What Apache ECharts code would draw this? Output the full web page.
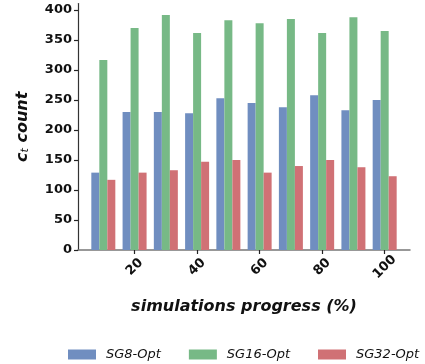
<!DOCTYPE html>
<html>
<head>
<meta charset="utf-8">
<script src="https://cdn.jsdelivr.net/npm/echarts@6/dist/echarts.min.js"></script>
<style>html,body{margin:0;padding:0;background:#fff}#c{width:425px;height:364px}</style>
</head>
<body>
<div id="c"></div>
<script>
const progress = [10, 20, 30, 40, 50, 60, 70, 80, 90, 100];
const sg8 = [129, 230, 230, 228, 253, 245, 238, 258, 233, 250];
const sg16 = [317, 370, 392, 362, 383, 378, 385, 362, 388, 365];
const sg32 = [117, 129, 133, 147, 150, 129, 140, 150, 138, 123];
const xTicks = [20, 40, 60, 80, 100];
const yTicks = [0, 50, 100, 150, 200, 250, 300, 350, 400];
const seriesNames = ['SG8-Opt', 'SG16-Opt', 'SG32-Opt'];
const colors = ['#708EC0', '#77B986', '#D07175'];

const chart = echarts.init(document.getElementById('c'), null, {renderer: 'canvas'});
const font = 'DejaVu Sans';
function mk(name, vals, color) {
  return {
    name: name, type: 'bar', barWidth: 8, barGap: '0%',
    itemStyle: {color: color},
    data: progress.map((p, i) => [p, vals[i]])
  };
}
chart.setOption({
  animation: false,
  grid: {left: 78, right: 15, top: 3.5, bottom: 114, containLabel: false},
  xAxis: {
    type: 'value', min: 1.9, max: 108.1,
    name: 'simulations progress (%)', nameLocation: 'middle', nameGap: 49,
    nameTextStyle: {fontFamily: font, fontWeight: 'bold', fontStyle: 'italic', fontSize: 16, color: '#111'},
    axisLine: {show: true, lineStyle: {color: '#777', width: 1.5}},
    axisTick: {show: true, length: 4, customValues: xTicks, lineStyle: {color: '#222', width: 1.2}},
    axisLabel: {customValues: xTicks, rotate: 45, align: 'center', verticalAlign: 'middle', margin: 17,
      fontFamily: font, fontWeight: 'bold', fontSize: 13, color: '#111'},
    splitLine: {show: false}
  },
  yAxis: {
    type: 'value', min: 0, max: 411,
    name: '{a|c}{s|t}{a| count}', nameLocation: 'middle', nameGap: 47,
    nameTextStyle: {
      rich: {
        a: {fontFamily: font, fontWeight: 'bold', fontStyle: 'italic', fontSize: 16, color: '#111'},
        s: {fontFamily: font, fontWeight: 'normal', fontStyle: 'italic', fontSize: 11, color: '#111', verticalAlign: 'bottom', padding: [6, 0, 0, 0]}
      }
    },
    axisLine: {show: true, lineStyle: {color: '#333', width: 1.2}},
    axisTick: {show: true, length: 4, customValues: yTicks, lineStyle: {color: '#222', width: 1.2}},
    axisLabel: {customValues: yTicks, margin: 6, fontFamily: font, fontWeight: 'bold', fontSize: 13, color: '#111'},
    splitLine: {show: false}
  },
  legend: {
    data: seriesNames, left: 68, top: 348, width: 357, padding: 0, itemWidth: 28, itemHeight: 10, itemGap: 28,
    icon: 'rect',
    textStyle: {fontFamily: font, fontStyle: 'italic', fontSize: 13, color: '#111', padding: [0, 0, 0, 5]}
  },
  series: [mk(seriesNames[0], sg8, colors[0]), mk(seriesNames[1], sg16, colors[1]), mk(seriesNames[2], sg32, colors[2])]
});
</script>
</body>
</html>
